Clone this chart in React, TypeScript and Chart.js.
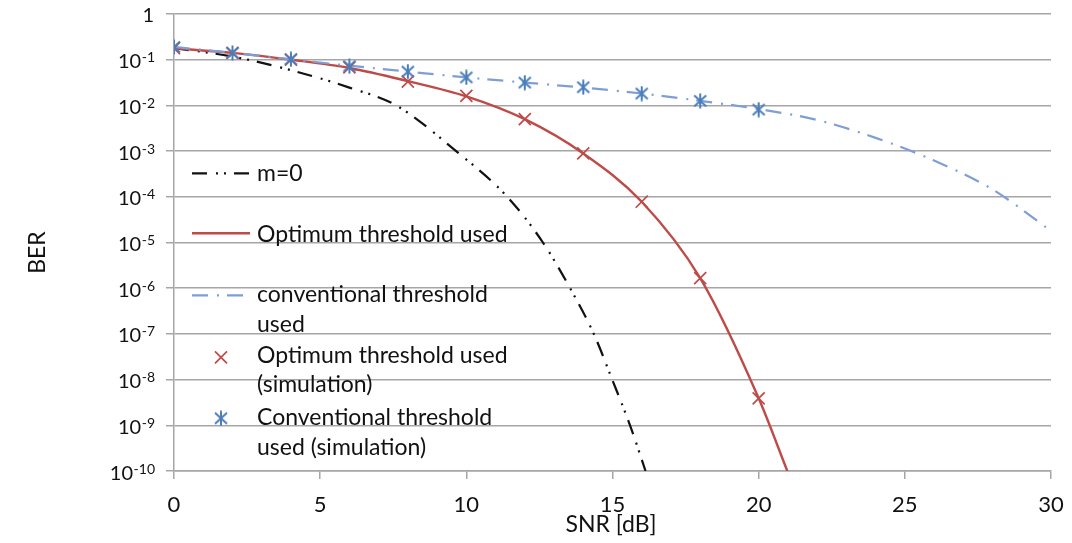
import React, { useEffect, useRef } from 'react';
import { Chart, registerables } from 'chart.js';

Chart.register(...registerables);

// ---------- data ----------
const snrM0 = [0, 2, 4, 6, 7.6, 9.65, 11.4, 12.62, 13.55, 14.36, 14.99, 15.6, 16.13];
const berM0 = [1.8e-1, 1.17e-1, 5.9e-2, 2.45e-2, 1e-2, 1e-3, 1e-4, 1e-5, 1e-6, 1e-7, 1e-8, 1e-9, 1e-10];

const snrOpt = [0, 2, 4, 6, 8, 10, 12, 14, 16, 18, 20, 20.98];
const berOpt = [1.78e-1, 1.41e-1, 1.0e-1, 6.6e-2, 3.4e-2, 1.58e-2, 5.0e-3, 8.9e-4, 7.8e-5, 1.66e-6, 3.9e-9, 1e-10];

const snrConv = [0, 2, 4, 6, 8, 10, 12, 14, 16, 18, 20, 22, 24, 26, 28, 29.9];
const berConv = [1.9e-1, 1.41e-1, 1.02e-1, 7.4e-2, 5.5e-2, 4.1e-2, 3.16e-2, 2.45e-2, 1.82e-2, 1.26e-2, 8.3e-3, 4.8e-3, 1.95e-3, 6.2e-4, 1.45e-4, 2.0e-5];

const snrSim = [0, 2, 4, 6, 8, 10, 12, 14, 16, 18, 20];
const berOptSim = [1.78e-1, 1.41e-1, 1.0e-1, 6.8e-2, 3.3e-2, 1.62e-2, 5.0e-3, 8.9e-4, 7.8e-5, 1.66e-6, 3.9e-9];
const berConvSim = [1.9e-1, 1.41e-1, 1.02e-1, 7.2e-2, 5.5e-2, 4.1e-2, 3.16e-2, 2.5e-2, 1.82e-2, 1.26e-2, 8.1e-3];

const xTickLabels = [0, 5, 10, 15, 20, 25, 30];
const yTickExponents = [0, -1, -2, -3, -4, -5, -6, -7, -8, -9, -10];

const xTitle = 'SNR [dB]';
const yTitle = 'BER';
const legendLabels = [
  ['m=0'],
  ['Optimum threshold used'],
  ['conventional threshold', 'used'],
  ['Optimum threshold used', '(simulation)'],
  ['Conventional threshold', 'used (simulation)'],
];

// ---------- styles ----------
const FONT = 'Lato';
const TEXT = '#111111';
const GRID = '#a6a6a6';
const C_BLACK = '#111111';
const C_RED = '#be4b48';
const C_BLUE_LINE = '#7f9fd4';
const C_BLUE_MARK = '#4a7ebb';
const DASH_M0 = [15, 9, 2, 6, 2, 8];
const DASH_CONV = [16, 9, 2, 8];

const pts = (xs: number[], ys: number[]) => xs.map((x, i) => ({ x, y: ys[i] }));

function makeStar(): HTMLCanvasElement {
  const c = document.createElement('canvas');
  c.width = 16;
  c.height = 16;
  const g = c.getContext('2d')!;
  g.strokeStyle = C_BLUE_MARK;
  g.lineWidth = 2;
  g.beginPath();
  g.moveTo(2, 2.5); g.lineTo(14, 13.5);
  g.moveTo(14, 2.5); g.lineTo(2, 13.5);
  g.moveTo(8, 0.5); g.lineTo(8, 15.5);
  g.stroke();
  return c;
}

function drawCross(ctx: CanvasRenderingContext2D, x: number, y: number) {
  ctx.save();
  ctx.strokeStyle = C_RED;
  ctx.lineWidth = 1.7;
  ctx.setLineDash([]);
  ctx.beginPath();
  ctx.moveTo(x - 6, y - 6); ctx.lineTo(x + 6, y + 6);
  ctx.moveTo(x + 6, y - 6); ctx.lineTo(x - 6, y + 6);
  ctx.stroke();
  ctx.restore();
}

function makeDecor(star: HTMLCanvasElement) {
  return {
    id: 'decor',
    afterDraw(chart: any) {
      const ctx: CanvasRenderingContext2D = chart.ctx;
      const xs = chart.scales.x;
      const ys = chart.scales.y;
      ctx.save();
      ctx.fillStyle = TEXT;
      ctx.textBaseline = 'alphabetic';

      // y tick labels with superscript exponents
      ctx.textAlign = 'right';
      yTickExponents.forEach((k) => {
        const py = ys.getPixelForValue(Math.pow(10, k));
        if (k === 0) {
          ctx.font = `20px ${FONT}`;
          ctx.fillText('1', 154, py + 7.5);
        } else {
          const e = String(k);
          ctx.font = `14px ${FONT}`;
          ctx.fillText(e, 155, py + 2.5);
          const w = ctx.measureText(e).width;
          ctx.font = `20px ${FONT}`;
          ctx.fillText('10', 155 - w - 0.5, py + 8.5);
        }
      });

      // x tick labels
      ctx.textAlign = 'center';
      ctx.font = `22px ${FONT}`;
      xTickLabels.forEach((v) => {
        ctx.fillText(String(v), xs.getPixelForValue(v), 511.5);
      });

      // axis titles
      ctx.font = `23px ${FONT}`;
      ctx.fillText(xTitle, 611, 532);
      ctx.save();
      ctx.translate(45, 252.5);
      ctx.rotate(-Math.PI / 2);
      ctx.fillText(yTitle, 0, 0);
      ctx.restore();

      // legend (inside plot, no background)
      const lx0 = 192, lx1 = 249, tx = 257;
      ctx.lineCap = 'butt';
      ctx.strokeStyle = C_BLACK; ctx.lineWidth = 2.2; ctx.setLineDash(DASH_M0);
      ctx.beginPath(); ctx.moveTo(lx0, 173.3); ctx.lineTo(lx1, 173.3); ctx.stroke();
      ctx.strokeStyle = C_RED; ctx.lineWidth = 2.4; ctx.setLineDash([]);
      ctx.beginPath(); ctx.moveTo(lx0, 233.3); ctx.lineTo(lx1 + 1, 233.3); ctx.stroke();
      ctx.strokeStyle = C_BLUE_LINE; ctx.lineWidth = 2.2; ctx.setLineDash(DASH_CONV);
      ctx.beginPath(); ctx.moveTo(lx0, 295.3); ctx.lineTo(lx1, 295.3); ctx.stroke();
      ctx.setLineDash([]);
      drawCross(ctx, 221, 357.3);
      ctx.drawImage(star, 221 - 8, 418.3 - 8);

      ctx.textAlign = 'left';
      ctx.font = `23px ${FONT}`;
      const baselines = [[181], [241.7], [302.3, 331.7], [363.3, 391.7], [425, 455]];
      legendLabels.forEach((lines, i) => {
        lines.forEach((t, j) => ctx.fillText(t, tx, baselines[i][j]));
      });
      ctx.restore();
    },
  };
}

export default function App() {
  const ref = useRef<HTMLCanvasElement>(null);

  useEffect(() => {
    const star = makeStar();
    Chart.defaults.font.family = FONT;
    const chart = new Chart(ref.current!, {
      type: 'line',
      data: {
        datasets: [
          {
            label: 'm=0',
            data: pts(snrM0, berM0),
            borderColor: C_BLACK,
            borderWidth: 2.2,
            borderDash: DASH_M0,
            pointRadius: 0,
            cubicInterpolationMode: 'monotone',
            order: 4,
          },
          {
            label: 'Optimum threshold used',
            data: pts(snrOpt, berOpt),
            borderColor: C_RED,
            borderWidth: 2.4,
            pointRadius: 0,
            cubicInterpolationMode: 'monotone',
            order: 3,
          },
          {
            label: 'conventional threshold used',
            data: pts(snrConv, berConv),
            borderColor: C_BLUE_LINE,
            borderWidth: 2.2,
            borderDash: DASH_CONV,
            pointRadius: 0,
            cubicInterpolationMode: 'monotone',
            order: 2,
          },
          {
            label: 'Optimum threshold used (simulation)',
            data: pts(snrSim, berOptSim),
            showLine: false,
            borderColor: C_RED,
            pointStyle: 'crossRot',
            pointRadius: 8.5,
            pointBorderWidth: 1.7,
            pointBorderColor: C_RED,
            order: 1,
          },
          {
            label: 'Conventional threshold used (simulation)',
            data: pts(snrSim, berConvSim),
            showLine: false,
            borderColor: C_BLUE_MARK,
            pointStyle: star,
            pointRadius: 8,
            order: 0,
          },
        ],
      } as any,
      options: {
        animation: false,
        responsive: false,
        devicePixelRatio: 1,
        layout: { padding: { top: 14, right: 21, left: 0, bottom: 0 } },
        plugins: { legend: { display: false }, tooltip: { enabled: false } },
        scales: {
          x: {
            type: 'linear',
            min: 0,
            max: 30,
            ticks: { stepSize: 5, display: false },
            grid: { drawOnChartArea: false, drawTicks: true, tickLength: 8, color: GRID, lineWidth: 1.5 },
            border: { display: true, color: GRID, width: 1.5 },
            afterFit: (s: any) => { s.height = 72; },
          },
          y: {
            type: 'logarithmic',
            min: 1e-10,
            max: 1,
            ticks: { display: false },
            afterBuildTicks: (s: any) => {
              s.ticks = yTickExponents.map((k) => ({ value: Math.pow(10, k) }));
            },
            grid: { drawTicks: true, tickLength: 8, color: GRID, lineWidth: 1.5 },
            border: { display: true, color: GRID, width: 1.5 },
            afterFit: (s: any) => { s.width = 174; },
          },
        },
      } as any,
      plugins: [makeDecor(star)],
    });
    return () => chart.destroy();
  }, []);

  return (
    <div style={{ position: 'absolute', left: 0, top: 0, width: 1072, height: 543, background: '#fff' }}>
      <canvas ref={ref} width={1072} height={543} style={{ display: 'block' }} />
    </div>
  );
}
